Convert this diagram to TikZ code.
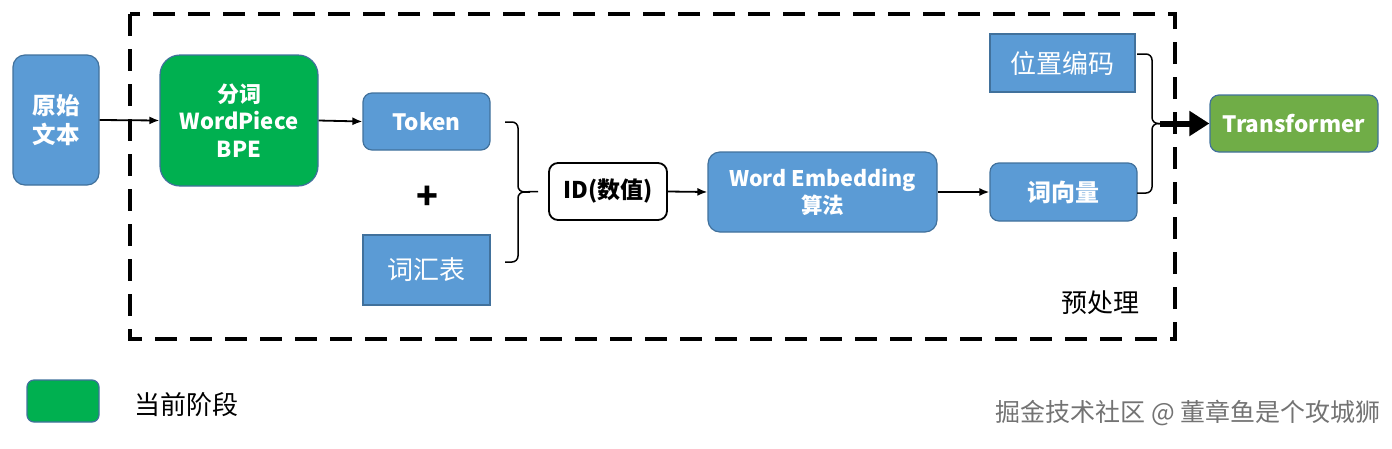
\documentclass[tikz,border=0pt]{standalone}
\usepackage{fontspec}
\setmainfont{Noto Sans CJK SC}
\usetikzlibrary{arrows.meta}
\definecolor{boxblue}{HTML}{5B9BD5}
\definecolor{edgeblue}{HTML}{41719C}
\definecolor{stagegreen}{HTML}{00B050}
\definecolor{modelgreen}{HTML}{70AD47}
\newcommand{\fs}[1]{\fontsize{#1}{1.25\dimexpr#1pt\relax}\selectfont}
\begin{document}
\begin{tikzpicture}[x=1pt, y=-1pt,
    every node/.style={inner sep=0pt},
    box/.style={draw=edgeblue, line width=1.2pt, fill=boxblue, text=white, align=center, font=\fs{22}\bfseries, rounded corners=9pt},
    sqbox/.style={box, rounded corners=0pt},
    arr/.style={line width=1.8pt, -{Latex[length=10pt,width=8pt]}},
    brk/.style={line width=1.5pt, rounded corners=6pt}]
    \useasboundingbox (0,0) rectangle (1392,448);

    \draw[line width=4pt, dash pattern=on 22pt off 13pt] (130,14) rectangle (1175,339);

    \node[box, font=\fontsize{23.5}{29}\selectfont\bfseries, minimum width=86pt, minimum height=130pt, rounded corners=12pt] (raw) at (56,120) {原始\\文本};
    \node[box, fill=stagegreen, font=\fontsize{22}{27.5}\selectfont\bfseries, minimum width=158pt, minimum height=131pt, rounded corners=20pt] (seg) at (239,120.5) {分词\\WordPiece\\BPE};
    \node[box, font=\fs{22.5}\bfseries, minimum width=127pt, minimum height=57pt] (token) at (426.5,121.5) {Token};
    \node[font=\fontsize{36}{36}\selectfont\bfseries] (plus) at (427,198) {+};
    \node[sqbox, font=\fs{26}, minimum width=127pt, minimum height=70pt] (vocab) at (426.5,270) {词汇表};
    \node[box, fill=white, text=black, draw=black, line width=1.8pt, font=\fs{23}\bfseries, minimum width=118pt, minimum height=57pt] (id) at (608,191.5) {ID(数值)};
    \node[box, font=\fontsize{21.5}{27}\selectfont\bfseries, minimum width=229pt, minimum height=80pt, rounded corners=12pt] (emb) at (822.5,192) {Word Embedding\\算法};
    \node[box, font=\fs{24}\bfseries, minimum width=147pt, minimum height=58pt] (vec) at (1063.5,192) {词向量};
    \node[sqbox, font=\fs{26}, minimum width=145pt, minimum height=58pt] (pos) at (1062.5,63) {位置编码};
    \node[box, fill=modelgreen, font=\fs{22.5}\bfseries, minimum width=168pt, minimum height=57pt] (trans) at (1294,123.5) {Transformer};

    \node[font=\fs{26}] (pre) at (1100,303) {预处理};

    % legend
    \node[draw=edgeblue, line width=1.2pt, fill=stagegreen, rounded corners=7pt, minimum width=72pt, minimum height=42pt] (legend) at (63,401) {};
    \node[font=\fs{26}, anchor=west] (legtext) at (134,405) {当前阶段};
    \node[font=\fs{25}, text=black!55, anchor=east] (mark) at (1381,413) {掘金技术社区 @ 董章鱼是个攻城狮};

    \draw[arr] (raw.east) -- (seg.west);
    \draw[arr] (seg.east) -- (token.west);
    \draw[arr] (id.east) -- (emb.west);
    \draw[arr] (emb.east) -- (vec.west);

    % brackets
    \coordinate (ltop) at (505,122);
    \coordinate (lbot) at (505,262);
    \coordinate (lmid) at (518,192);
    \draw[brk] (ltop) -- (518,122) -- (lmid) -- (id.west -| 538,0);
    \draw[brk] (lbot) -- (518,262) -- (lmid) -- (530,192);
    \coordinate (rtop) at (1137,54);
    \coordinate (rbot) at (1137,193);
    \coordinate (rmid) at (1152,123.5);
    \draw[brk] (rtop) -- (1152,54) -- (rmid) -- (1166,123.5);
    \draw[brk] (rbot) -- (1152,193) -- (rmid) -- (1160,123.5);
    \draw[line width=6pt, -{Triangle[length=20pt,width=24pt]}] (1160,123.5) -- (trans.west);
\end{tikzpicture}
\end{document}
